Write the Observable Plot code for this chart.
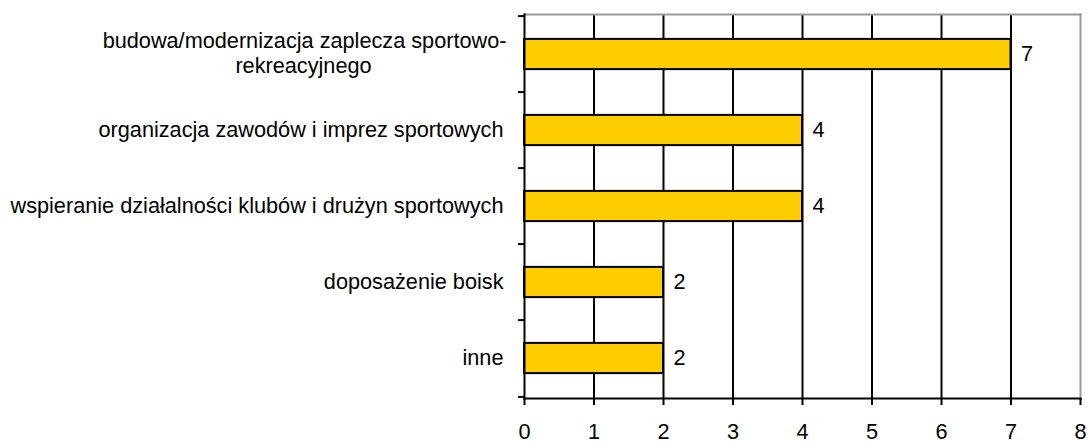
<!DOCTYPE html>
<html>
<head>
<meta charset="utf-8">
<script src="https://cdn.jsdelivr.net/npm/d3@7"></script>
<script src="https://cdn.jsdelivr.net/npm/@observablehq/plot@0.6"></script>
<style>
  html, body { margin: 0; padding: 0; background: #fff; }
  #chart svg { display: block; }
</style>
</head>
<body>
<div id="chart"></div>
<script>
const categories = [
  "budowa/modernizacja zaplecza sportowo-rekreacyjnego",
  "organizacja zawodów i imprez sportowych",
  "wspieranie działalności klubów i drużyn sportowych",
  "doposażenie boisk",
  "inne"
];
const categoryLines = [
  ["budowa/modernizacja zaplecza sportowo-", "rekreacyjnego"],
  ["organizacja zawodów i imprez sportowych"],
  ["wspieranie działalności klubów i drużyn sportowych"],
  ["doposażenie boisk"],
  ["inne"]
];
const values = [7, 4, 4, 2, 2];
const xTicks = [0, 1, 2, 3, 4, 5, 6, 7, 8];

const data = categories.map((c, i) => ({cat: c, value: values[i]}));

const W = 1090, H = 444, mt = 14, mb = 46, ml = 524, mr = 10;
const bw = (H - mt - mb) / categories.length;
const barH = 31;
const inset = (bw - barH) / 2;
const fs = 21.7;

const singleLabels = categories.map((c, i) => ({cat: c, lines: categoryLines[i]}))
  .filter(d => d.lines.length === 1);
const multiLabels = categories.map((c, i) => ({cat: c, lines: categoryLines[i]}))
  .filter(d => d.lines.length > 1);

const chart = Plot.plot({
  width: W, height: H,
  marginTop: mt, marginBottom: mb, marginLeft: ml, marginRight: mr,
  style: {fontFamily: "'Liberation Sans', Arial, sans-serif", fontSize: fs + "px", color: "black", background: "white"},
  x: {domain: [0, 8]},
  y: {domain: categories, padding: 0},
  marks: [
    Plot.ruleX(xTicks.filter(t => t > 0 && t < 8), {stroke: "black", strokeWidth: 2}),
    Plot.frame({anchor: "top", stroke: "#999", strokeWidth: 2}),
    Plot.frame({anchor: "right", stroke: "#999", strokeWidth: 2}),
    Plot.barX(data, {x: "value", y: "cat", fill: "#FFCC00", stroke: "black", strokeWidth: 2, insetTop: inset, insetBottom: inset}),
    Plot.text(data, {x: "value", y: "cat", text: d => String(d.value), textAnchor: "start", dx: 10, fontSize: fs, fill: "black"}),
    Plot.frame({anchor: "left", stroke: "black", strokeWidth: 2}),
    Plot.frame({anchor: "bottom", stroke: "black", strokeWidth: 2}),
    Plot.axisX({ticks: xTicks, tickSize: 7, tickPadding: 18, strokeWidth: 2, stroke: "black", fontSize: fs, label: null, tickFormat: d => String(d)}),
    Plot.axisY({tickSize: 6, text: null, dy: -bw / 2, strokeWidth: 2, stroke: "black", label: null}),
    Plot.axisY({ticks: [categories[categories.length - 1]], tickSize: 6, text: null, dy: bw / 2, strokeWidth: 2, stroke: "black", label: null}),
    Plot.text(singleLabels, {y: "cat", text: d => d.lines[0], frameAnchor: "left", textAnchor: "end", dx: -21, fontSize: fs, fill: "black"}),
    Plot.text(multiLabels, {y: "cat", text: d => d.lines[0], frameAnchor: "left", textAnchor: "end", dx: -18, dy: -13, fontSize: fs, fill: "black"}),
    Plot.text(multiLabels, {y: "cat", text: d => d.lines[1], frameAnchor: "left", textAnchor: "middle", dx: -221, dy: 12, fontSize: fs, fill: "black"})
  ]
});
document.getElementById("chart").appendChild(chart);
</script>
</body>
</html>
